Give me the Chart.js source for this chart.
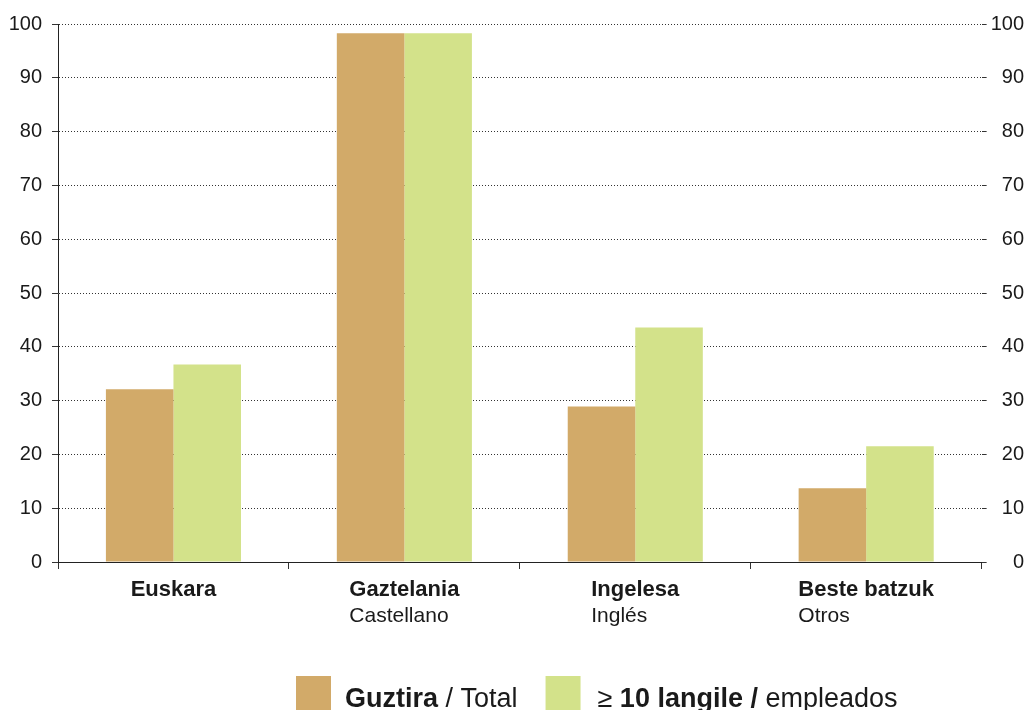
<!DOCTYPE html>
<html>
<head>
<meta charset="utf-8">
<script src="https://cdn.jsdelivr.net/npm/chart.js@4"></script>
<style>
  html, body { margin: 0; padding: 0; background: #fff; }
  canvas { display: block; }
</style>
</head>
<body>
<canvas id="barChart" width="1028" height="710"></canvas>
<script>
// data
const categoriesEu = ['Euskara', 'Gaztelania', 'Ingelesa', 'Beste batzuk'];
const categoriesEs = ['', 'Castellano', 'Inglés', 'Otros'];
const totalValues = [32.1, 98.3, 28.9, 13.7];
const bigFirmValues = [36.7, 98.3, 43.6, 21.5];
const yTicks = [0, 10, 20, 30, 40, 50, 60, 70, 80, 90, 100];
const legendParts = [
    [{ t: 'Guztira', bold: true }, { t: ' / Total', bold: false }],
    [{ t: '\u2265 ', bold: false }, { t: '10 langile /', bold: true }, { t: ' empleados', bold: false }]
];

const colors = ['#D2AA69', '#D3E28A'];
const fontFamily = "'Liberation Sans', Arial, sans-serif";
const textColor = '#1a1a1a';

const labelsPlugin = {
    id: 'catLabels',
    afterDraw(chart) {
        const ctx = chart.ctx;
        const x = chart.scales.x;
        ctx.save();
        ctx.fillStyle = textColor;
        ctx.textBaseline = 'alphabetic';
        ctx.textAlign = 'left';
        categoriesEu.forEach((lab, i) => {
            const cx = x.getPixelForValue(i);
            ctx.font = 'bold 22px ' + fontFamily;
            const w = ctx.measureText(lab).width;
            const left = cx - w / 2;
            ctx.fillText(lab, left, 596);
            if (categoriesEs[i]) {
                ctx.font = '21px ' + fontFamily;
                ctx.fillText(categoriesEs[i], left, 622);
            }
        });

        // legend, bold and normal text mixed
        let lx = 296;
        const boxTop = 676, boxW = 35, boxH = 34, base = 707;
        legendParts.forEach((parts, i) => {
            ctx.fillStyle = colors[i];
            ctx.fillRect(lx, boxTop, boxW, boxH);
            lx += boxW + (i === 0 ? 14 : 17);
            ctx.fillStyle = textColor;
            parts.forEach(p => {
                ctx.font = (p.bold ? 'bold ' : '') + '27px ' + fontFamily;
                ctx.fillText(p.t, lx, base);
                lx += ctx.measureText(p.t).width;
            });
            lx += 28;
        });
        ctx.restore();
    }
};

const ctx = document.getElementById('barChart').getContext('2d');
const barChart = new Chart(ctx, {
    type: 'bar',
    data: {
        labels: categoriesEu,
        datasets: [{
            label: 'Guztira / Total',
            data: totalValues,
            backgroundColor: colors[0],
            categoryPercentage: 0.585,
            barPercentage: 1.0
        }, {
            label: '\u2265 10 langile / empleados',
            data: bigFirmValues,
            backgroundColor: colors[1],
            categoryPercentage: 0.585,
            barPercentage: 1.0
        }]
    },
    options: {
        responsive: false,
        animation: false,
        devicePixelRatio: 1,
        layout: { padding: { top: 24, left: 0, right: 4, bottom: 0 } },
        scales: {
            x: {
                grid: {
                    drawOnChartArea: false,
                    drawTicks: true,
                    tickLength: 7,
                    tickColor: '#333',
                    offset: true
                },
                border: { display: true, color: '#222', width: 1 },
                ticks: { display: false },
                afterFit: s => { s.height = 148; }
            },
            y: {
                position: 'left',
                min: 0,
                max: 100,
                afterBuildTicks: s => { s.ticks = yTicks.map(v => ({ value: v })); },
                grid: {
                    color: '#333',
                    tickBorderDash: [1, 0],
                    tickColor: '#333',
                    tickLength: 6,
                    lineWidth: 1
                },
                border: { display: true, color: '#222', width: 1, dash: [1, 2] },
                ticks: {
                    color: textColor,
                    font: { family: fontFamily, size: 20 },
                    padding: 10
                },
                afterFit: s => { s.width = 58; }
            },
            y2: {
                position: 'right',
                min: 0,
                max: 100,
                afterBuildTicks: s => { s.ticks = yTicks.map(v => ({ value: v })); },
                grid: {
                    drawOnChartArea: false,
                    drawTicks: true,
                    tickColor: '#333',
                    tickLength: 5
                },
                border: { display: false },
                ticks: {
                    color: textColor,
                    font: { family: fontFamily, size: 20 },
                    padding: 2,
                    crossAlign: 'far'
                }
            }
        },
        plugins: {
            legend: { display: false },
            tooltip: { enabled: false }
        }
    },
    plugins: [labelsPlugin]
});
</script>
</body>
</html>
